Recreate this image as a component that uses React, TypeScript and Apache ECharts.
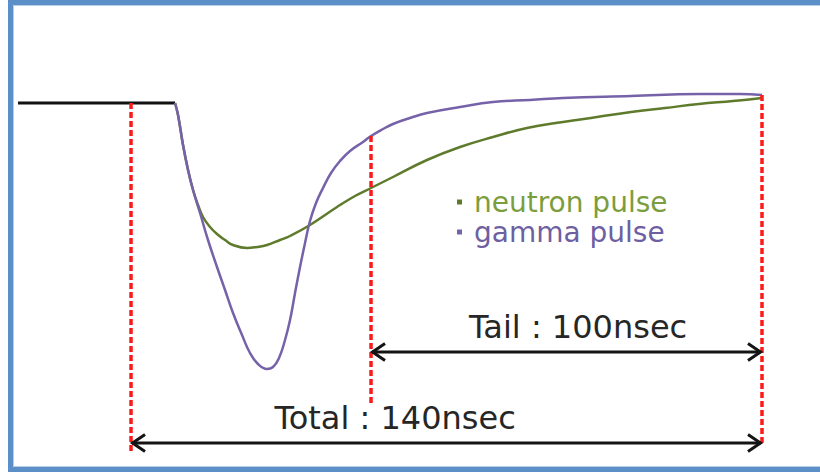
import React, { useEffect, useRef } from "react";
import * as echarts from "echarts";

// time axis in ns (window start = 0, window end = 140), amplitude in arbitrary units
const gammaTime = [9.76, 10.43, 11.54, 12.65, 13.76, 15.31, 17.08, 19.08, 20.86, 22.63, 24.63, 26.4, 28.18, 30.17, 31.51, 32.84, 34.17, 35.28, 36.39, 37.5, 38.61, 39.71, 41.05, 42.6, 44.37, 46.37, 48.59, 51.47, 53.25, 55.91, 58.13, 61.9, 65.67, 73.0, 80.32, 88.53, 95.85, 110.94, 126.02, 135.12, 140.0];
const gammaAmp = [0, -0.12, -0.42, -0.67, -0.87, -1.1, -1.37, -1.64, -1.87, -2.1, -2.32, -2.5, -2.61, -2.66, -2.64, -2.55, -2.37, -2.17, -1.9, -1.64, -1.4, -1.18, -1.0, -0.85, -0.7, -0.58, -0.48, -0.39, -0.33, -0.26, -0.21, -0.15, -0.1, -0.04, 0.01, 0.03, 0.05, 0.07, 0.09, 0.09, 0.08];

const neutronTime = [9.76, 10.43, 11.54, 12.65, 13.76, 14.87, 15.97, 17.53, 19.08, 20.86, 22.63, 25.74, 27.96, 30.17, 33.06, 35.28, 39.71, 45.71, 49.7, 53.25, 58.13, 65.67, 73.0, 80.32, 87.86, 95.85, 103.39, 110.94, 118.48, 126.02, 133.57, 140.0];
const neutronAmp = [0, -0.12, -0.42, -0.67, -0.87, -1.02, -1.14, -1.24, -1.31, -1.37, -1.42, -1.45, -1.44, -1.42, -1.37, -1.33, -1.22, -1.04, -0.93, -0.85, -0.74, -0.57, -0.44, -0.34, -0.25, -0.19, -0.14, -0.09, -0.05, -0.01, 0.02, 0.05];

const baselineTime = [-25.07, 9.76];
const baselineAmp = [0, 0];

// vertical dashed markers: [time, top amplitude, bottom amplitude]
const windowStart = [0, 0, -3.5];
const tailStart = [53.25, -0.33, -3.0];
const windowEnd = [140, 0.08, -3.42];

// arrows: [from, to, amplitude level, label centre]
const arrowData = [
  [53.25, 140, -2.49, 99.2],
  [0, 140, -3.4, 58.6],
];
const arrowLabels = ["Tail : 100nsec", "Total : 140nsec"];

const seriesNames = ["neutron pulse", "gamma pulse"];

const X_MIN = -29.07;
const X_MAX = 152.87;
const Y_MIN = -3.71;
const Y_MAX = 1.03;

const GAMMA_LINE = "#7662A8";
const NEUTRON_LINE = "#5E7B2C";
const GAMMA_TEXT = "#6E5FA2";
const NEUTRON_TEXT = "#7B9D3E";
const RED = "#FF1A1A";

const zip = (a: number[], b: number[]) => a.map((v, i) => [v, b[i]]);

export default function App() {
  const ref = useRef<HTMLDivElement>(null);
  useEffect(() => {
    if (!ref.current) return;
    const chart = echarts.init(ref.current, undefined, { renderer: "svg" });
    const dashed = (m: number[]) => ({
      type: "line",
      data: [
        [m[0], m[1]],
        [m[0], m[2]],
      ],
      showSymbol: false,
      symbol: "none",
      silent: true,
      z: 5,
      lineStyle: { color: RED, width: 3.5, type: [6, 3] },
    });
    chart.setOption({
      animation: false,
      backgroundColor: "#ffffff",
      grid: { left: 0, right: 0, top: 0, bottom: 0 },
      xAxis: { type: "value", min: X_MIN, max: X_MAX, show: false },
      yAxis: { type: "value", min: Y_MIN, max: Y_MAX, show: false },
      legend: {
        data: [
          { name: seriesNames[0], textStyle: { color: NEUTRON_TEXT } },
          { name: seriesNames[1], textStyle: { color: GAMMA_TEXT } },
        ],
        orient: "vertical",
        left: 457,
        top: 187,
        padding: 0,
        itemGap: 0,
        itemWidth: 5,
        itemHeight: 5,
        icon: "rect",
        selectedMode: false,
        textStyle: {
          fontFamily: "DejaVu Sans",
          fontSize: 28,
          lineHeight: 30,
          padding: [0, 0, 0, 7],
        },
      },
      graphic: [
        {
          type: "rect",
          shape: { x: 10.5, y: 2.5, width: 830, height: 467 },
          style: { fill: "none", stroke: "#5B8FC8", lineWidth: 5 },
          z: 100,
          silent: true,
        },
        {
          type: "rect",
          shape: { x: 13.5, y: 5.5, width: 830, height: 461 },
          style: { fill: "none", stroke: "#B5CDE9", lineWidth: 1 },
          z: 100,
          silent: true,
        },
      ],
      series: [
        {
          name: "baseline",
          type: "line",
          data: zip(baselineTime, baselineAmp),
          showSymbol: false,
          symbol: "none",
          lineStyle: { color: "#111111", width: 3 },
          z: 2,
        },
        {
          name: seriesNames[0],
          type: "line",
          data: zip(neutronTime, neutronAmp),
          showSymbol: false,
          symbol: "none",
          smooth: 0.45,
          color: NEUTRON_LINE,
          lineStyle: { color: NEUTRON_LINE, width: 2.5 },
          z: 3,
        },
        {
          name: seriesNames[1],
          type: "line",
          data: zip(gammaTime, gammaAmp),
          showSymbol: false,
          symbol: "none",
          smooth: 0.45,
          color: GAMMA_LINE,
          lineStyle: { color: GAMMA_LINE, width: 2.5 },
          z: 3,
        },
        dashed(windowStart),
        dashed(tailStart),
        dashed(windowEnd),
        {
          name: "arrows",
          type: "custom",
          data: arrowData,
          encode: { x: [0, 1, 3], y: 2 },
          z: 6,
          silent: true,
          renderItem: (params: any, api: any) => {
            const p0 = api.coord([api.value(0), api.value(2)]);
            const p1 = api.coord([api.value(1), api.value(2)]);
            const pl = api.coord([api.value(3), api.value(2)]);
            const w = 14;
            const h = 8.5;
            const stroke = { stroke: "#141414", lineWidth: 3, fill: null };
            return {
              type: "group",
              children: [
                {
                  type: "line",
                  shape: { x1: p0[0] + 1, y1: p0[1], x2: p1[0] - 1, y2: p1[1] },
                  style: { stroke: "#141414", lineWidth: 3 },
                },
                {
                  type: "polyline",
                  shape: {
                    points: [
                      [p0[0] + w, p0[1] - h],
                      [p0[0] + 1.5, p0[1]],
                      [p0[0] + w, p0[1] + h],
                    ],
                  },
                  style: stroke,
                },
                {
                  type: "polyline",
                  shape: {
                    points: [
                      [p1[0] - w, p1[1] - h],
                      [p1[0] - 1.5, p1[1]],
                      [p1[0] - w, p1[1] + h],
                    ],
                  },
                  style: stroke,
                },
                {
                  type: "text",
                  x: pl[0],
                  y: p0[1] - 9,
                  style: {
                    text: arrowLabels[params.dataIndex],
                    fontFamily: "DejaVu Sans",
                    fontSize: 32,
                    fill: "#262626",
                    align: "center",
                    verticalAlign: "bottom",
                  },
                },
              ],
            };
          },
        },
      ],
    });
    return () => chart.dispose();
  }, []);
  return (
    <div
      ref={ref}
      style={{ position: "absolute", left: 0, top: 0, width: 820, height: 474, background: "#fff" }}
    />
  );
}
